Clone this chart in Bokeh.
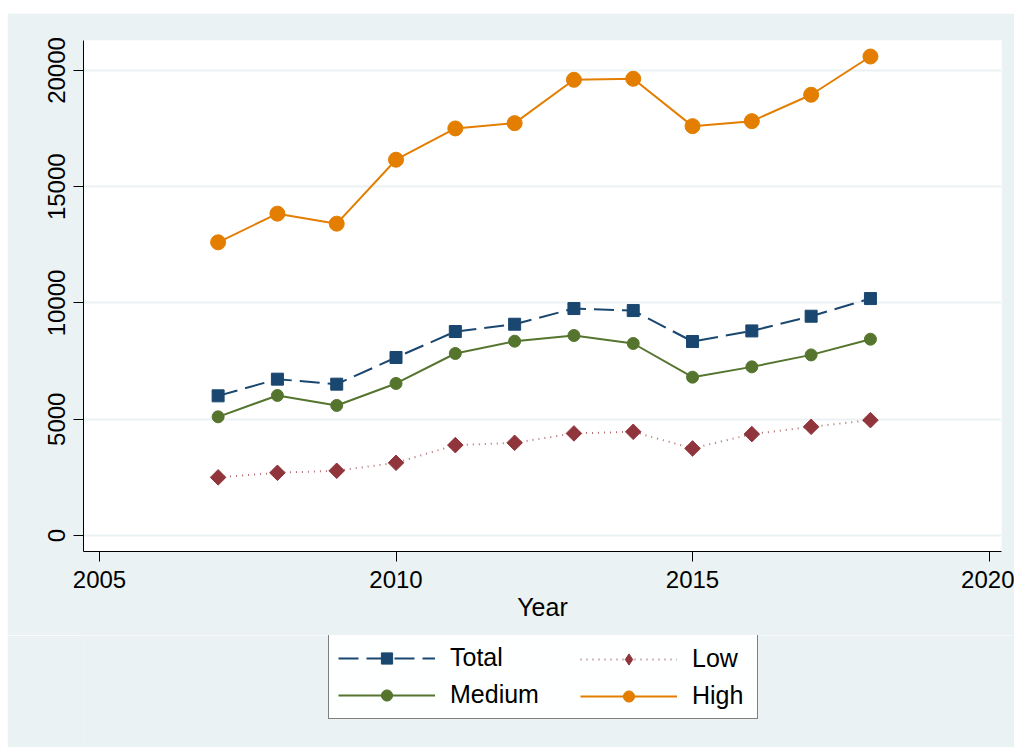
import math
from bokeh.plotting import figure
from bokeh.layouts import column
from bokeh.models import Legend, LegendItem, ColumnDataSource, Range1d, FixedTicker
from bokeh.embed import file_html
from bokeh.resources import INLINE

years = [2007, 2008, 2009, 2010, 2011, 2012, 2013, 2014, 2015, 2016, 2017, 2018]
total = [6007, 6724, 6509, 7656, 8773, 9087, 9761, 9675, 8343, 8799, 9431, 10191]
low = [2500, 2698, 2784, 3128, 3888, 3987, 4391, 4460, 3746, 4361, 4675, 4962]
medium = [5104, 6023, 5594, 6539, 7828, 8357, 8601, 8258, 6810, 7253, 7768, 8443]
high = [12610, 13843, 13413, 16163, 17508, 17736, 19600, 19643, 17607, 17822, 18956, 20601]
x_ticks = [2005, 2010, 2015, 2020]
y_ticks = [0, 5000, 10000, 15000, 20000]

FONT = "Liberation Sans"
BG = "#EAF2F3"

STYLES = {
    "Total": dict(color="#1a476f", dash="20 8", alpha=1.0, marker="square", size=12, angle=0.0),
    "Low": dict(color="#90353b", dash="1 5", alpha=0.7, marker="square", size=11, angle=math.pi / 4),
    "Medium": dict(color="#55752f", dash="solid", alpha=1.0, marker="circle", size=12, angle=0.0),
    "High": dict(color="#e37e00", dash="solid", alpha=1.0, marker="circle", size=15, angle=0.0),
}

p = figure(frame_width=918, frame_height=511, output_backend="svg", toolbar_location=None,
           x_range=Range1d(2004.73, 2020.21), y_range=Range1d(-688, 21290),
           min_border_left=76, min_border_right=13, min_border_top=27, min_border_bottom=84)
p.border_fill_color = BG
p.background_fill_color = "white"
p.outline_line_color = None

src = ColumnDataSource(dict(x=years, Total=total, Low=low, Medium=medium, High=high))


def draw(fig, name, source, xcol, ycol, key=False):
    s = dict(STYLES[name])
    if key and s["angle"]:
        # legend keys ignore angle: use the diamond marker instead of a rotated square
        s.update(marker="diamond", size=16, angle=0.0)
    ln = fig.line(xcol, ycol, source=source, line_color=s["color"], line_width=2,
                  line_dash=s["dash"], line_alpha=s["alpha"])
    sc = fig.scatter(xcol, ycol, source=source, marker=s["marker"], size=s["size"],
                     angle=s["angle"], color=s["color"])
    return [ln, sc]


for name in ["Total", "Medium", "Low", "High"]:
    draw(p, name, src, "x", name)

p.xgrid.grid_line_color = None
p.ygrid.grid_line_color = BG
p.ygrid.grid_line_width = 2

p.xaxis.ticker = FixedTicker(ticks=x_ticks)
p.yaxis.ticker = FixedTicker(ticks=y_ticks)
for ax in (p.xaxis[0], p.yaxis[0]):
    ax.axis_line_color = "black"
    ax.axis_line_width = 1
    ax.major_tick_line_color = "black"
    ax.major_tick_out = 10
    ax.major_tick_in = 0
    ax.minor_tick_line_color = None
    ax.major_label_text_font = FONT
    ax.major_label_text_font_size = "24px"
    ax.major_label_text_color = "black"
    ax.axis_label_text_font = FONT
    ax.axis_label_text_font_size = "25px"
    ax.axis_label_text_font_style = "normal"
    ax.axis_label_text_color = "black"
p.xaxis.axis_label = "Year"
p.xaxis.major_label_standoff = 9
p.xaxis.axis_label_standoff = 2
p.yaxis.major_label_orientation = "vertical"
p.yaxis.major_label_standoff = 8

# legend strip below the plot (same background); its key renderers use the same
# data but lie outside this strip's ranges, so only the legend keys are drawn
q = figure(frame_width=1007, frame_height=112, output_backend="svg", toolbar_location=None,
           x_range=Range1d(0, 1), y_range=Range1d(0, 1), x_axis_type=None, y_axis_type=None,
           min_border=0)
q.border_fill_color = BG
q.background_fill_color = BG
q.outline_line_color = None
q.xgrid.grid_line_color = None
q.ygrid.grid_line_color = None
keys = {name: draw(q, name, src, "x", name, key=True) for name in ["Total", "Medium", "Low", "High"]}


def make_legend(names, loc, boxed):
    lg = Legend(items=[LegendItem(label=n, renderers=keys[n]) for n in names],
                location=loc, orientation="vertical")
    lg.label_text_font = FONT
    lg.label_text_font_size = "25px"
    lg.label_text_color = "black"
    lg.glyph_width = 97
    lg.glyph_height = 28
    lg.label_height = 28
    lg.label_standoff = 15
    lg.spacing = 8
    lg.padding = 9
    lg.margin = 0
    if boxed:
        lg.label_width = 298
        lg.border_line_color = "black"
        lg.border_line_width = 1
        lg.background_fill_color = "white"
    else:
        lg.border_line_color = None
        lg.background_fill_alpha = 0
    return lg


q.add_layout(make_legend(["Total", "Medium"], (321, 28), True))
q.add_layout(make_legend(["Low", "High"], (573, 37), False))

layout = column(p, q, spacing=0)
layout.margin = (13, 0, 0, 7)

open("out.html", "w").write(file_html(layout, INLINE))
